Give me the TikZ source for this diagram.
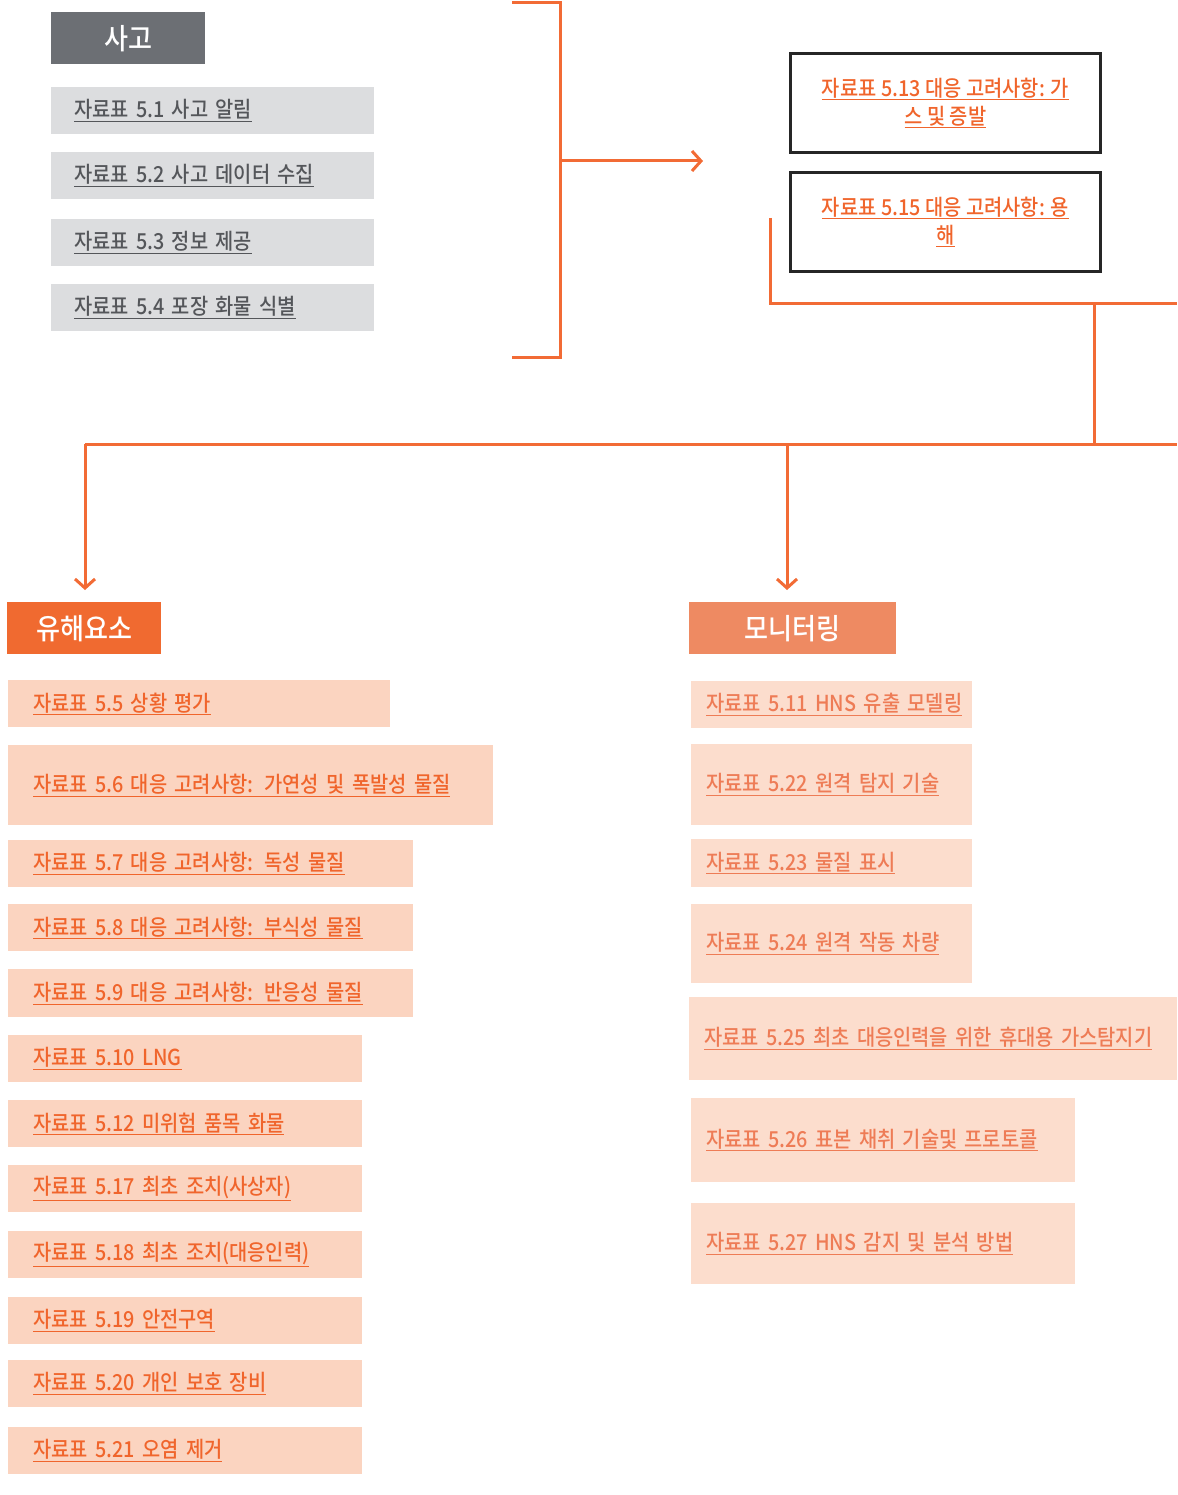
\documentclass[tikz,border=0pt]{standalone}
\usepackage{fontspec}
\setmainfont{Noto Sans CJK KR}[FakeStretch=0.9, UprightFont=* Medium]
\usetikzlibrary{arrows.meta,
  positioning
}
\definecolor{gbox}{HTML}{DCDDDF}
\definecolor{gdark}{HTML}{6C6F74}
\definecolor{gtext}{HTML}{54565A}
\definecolor{orline}{HTML}{F26B35}
\definecolor{ohead}{HTML}{F06A30}
\definecolor{oheadb}{HTML}{EE8A62}
\definecolor{lpink}{HTML}{FBD4C0}
\definecolor{rpink}{HTML}{FCDDCD}
\definecolor{otext}{HTML}{F0652C}
\definecolor{otextb}{HTML}{EE7C56}

\tikzset{
  hdr/.style={anchor=north west, inner sep=0pt, text=white,
    minimum height=52pt, font=\fontsize{29}{30}\selectfont},
  gitem/.style={anchor=north west, fill=gbox, text=gtext, minimum height=47pt,
    inner xsep=23pt, text width=277pt, align=left, font=\fontsize{22}{26}\selectfont},
  litem/.style={anchor=north west, fill=lpink, text=otext, minimum height=47pt,
    inner xsep=25pt, align=left, font=\fontsize{22}{26}\selectfont},
  ritem/.style={anchor=north west, fill=rpink, text=otextb, minimum height=47pt,
    inner xsep=15pt, align=left, font=\fontsize{22}{26}\selectfont},
  refbox/.style={anchor=north west, draw=black!85, line width=3pt, minimum width=310pt,
    minimum height=99pt, text=otext, align=center, font=\fontsize{22}{28}\selectfont},
  link/.style={draw=orline, line width=3pt},
  >={Straight Barb[length=9pt, width=20pt]}
}

\begin{document}
\begin{tikzpicture}[x=1pt, y=-1pt]
  \useasboundingbox (0,0) rectangle (1177,1495);

  % accident block
  \node[hdr, fill=gdark, minimum width=154pt] (acc) at (51,12) {사고};
  \node[gitem] (t51) at (51,87) {\underline{자료표 5.1 사고 알림}};
  \node[gitem] (t52) at (51,152) {\underline{자료표 5.2 사고 데이터 수집}};
  \node[gitem] (t53) at (51,219) {\underline{자료표 5.3 정보 제공}};
  \node[gitem] (t54) at (51,284) {\underline{자료표 5.4 포장 화물 식별}};

  % bracket
  \coordinate (brtop) at (512,3);
  \coordinate (brbot) at (512,357);
  \coordinate (brmid) at (560,161);
  \coordinate (brend) at (703,161);
  \draw[link] (brtop) -- (560,3) -- (560,357) -- (brbot);
  \draw[link, ->] (brmid) -- (brend);

  % gas / solution
  \node[refbox] (t513) at (789,52) {\underline{자료표 5.13 대응 고려사항: 가}\\\underline{스 및 증발}};
  \node[refbox] (t515) at (789,171) {\underline{자료표 5.15 대응 고려사항: 용}\\\underline{해}};

  % bus lines
  \coordinate (bstart) at (770,218);
  \coordinate (bcorner) at (770,304);
  \coordinate (bright) at (1177,304);
  \coordinate (bdrop) at (1094,304);
  \coordinate (bjoin) at (1094,444);
  \coordinate (bleft) at (85,444);
  \coordinate (bmid) at (787,444);
  \coordinate (bend) at (1177,444);
  \draw[link] (bstart) -- (bcorner) -- (bright);
  \draw[link] (bdrop) -- (bjoin);
  \draw[link] (bleft) -- (bend);

  % hazards
  \node[hdr, fill=ohead, minimum width=154pt] (haz) at (7,602) {유해요소};
  \draw[link, ->, shorten >=12pt] (bleft) -- (bleft |- haz.north);

  \node[litem, text width=332pt] (t55) at (8,680) {\underline{자료표 5.5 상황 평가}};
  \node[litem, text width=435pt, minimum height=80pt] (t56) at (8,745) {\underline{자료표 5.6 대응 고려사항: 가연성 및 폭발성 물질}};
  \node[litem, text width=355pt] (t57) at (8,840) {\underline{자료표 5.7 대응 고려사항: 독성 물질}};
  \node[litem, text width=355pt] (t58) at (8,904) {\underline{자료표 5.8 대응 고려사항: 부식성 물질}};
  \node[litem, text width=355pt, minimum height=48pt] (t59) at (8,969) {\underline{자료표 5.9 대응 고려사항: 반응성 물질}};
  \node[litem, text width=304pt] (t510) at (8,1035) {\underline{자료표 5.10 LNG}};
  \node[litem, text width=304pt] (t512) at (8,1100) {\underline{자료표 5.12 미위험 품목 화물}};
  \node[litem, text width=304pt] (t517) at (8,1165) {\underline{자료표 5.17 최초 조치(사상자)}};
  \node[litem, text width=304pt] (t518) at (8,1231) {\underline{자료표 5.18 최초 조치(대응인력)}};
  \node[litem, text width=304pt] (t519) at (8,1297) {\underline{자료표 5.19 안전구역}};
  \node[litem, text width=304pt] (t520) at (8,1360) {\underline{자료표 5.20 개인 보호 장비}};
  \node[litem, text width=304pt] (t521) at (8,1427) {\underline{자료표 5.21 오염 제거}};

  % monitoring
  \node[hdr, fill=oheadb, minimum width=207pt] (mon) at (689,602) {모니터링};
  \draw[link, ->, shorten >=12pt] (bmid) -- (bmid |- mon.north);

  \node[ritem, text width=251pt] (t511) at (691,681) {\underline{자료표 5.11 HNS 유출 모델링}};
  \node[ritem, text width=251pt, minimum height=81pt] (t522) at (691,744) {\underline{자료표 5.22 원격 탐지 기술}};
  \node[ritem, text width=251pt, minimum height=48pt] (t523) at (691,839) {\underline{자료표 5.23 물질 표시}};
  \node[ritem, text width=251pt, minimum height=79pt] (t524) at (691,904) {\underline{자료표 5.24 원격 작동 차량}};
  \node[ritem, text width=458pt, minimum height=83pt] (t525) at (689,997) {\underline{자료표 5.25 최초 대응인력을 위한 휴대용 가스탐지기}};
  \node[ritem, text width=354pt, minimum height=84pt] (t526) at (691,1098) {\underline{자료표 5.26 표본 채취 기술및 프로토콜}};
  \node[ritem, text width=354pt, minimum height=81pt] (t527) at (691,1203) {\underline{자료표 5.27 HNS 감지 및 분석 방법}};
\end{tikzpicture}
\end{document}
